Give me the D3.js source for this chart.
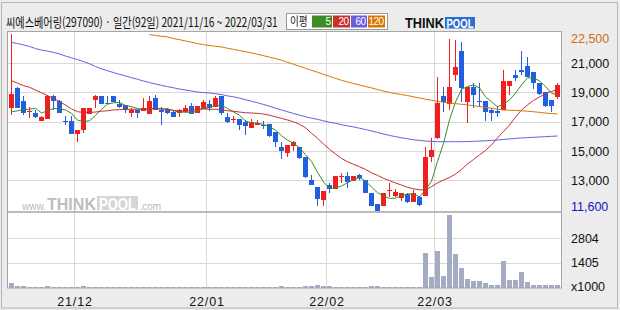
<!DOCTYPE html>
<html>
<head>
<meta charset="utf-8">
<script src="https://cdn.jsdelivr.net/npm/d3@7"></script>
<style>
  body { margin: 0; background: #ececec; }
  svg { display: block; }
</style>
</head>
<body>
<div id="chart"></div>
<script>
// trading days 2021/11/16 ~ 2022/03/31 (92)
var dates = [
  "11/16","11/17","11/18","11/19","11/22","11/23","11/24","11/25","11/26","11/29","11/30",
  "12/01","12/02","12/03","12/06","12/07","12/08","12/09","12/10","12/13","12/14","12/15",
  "12/16","12/17","12/20","12/21","12/22","12/23","12/24","12/27","12/28","12/29","12/30",
  "01/03","01/04","01/05","01/06","01/07","01/10","01/11","01/12","01/13","01/14",
  "01/17","01/18","01/19","01/20","01/21","01/24","01/25","01/26","01/27","01/28",
  "02/03","02/04","02/07","02/08","02/09","02/10","02/11","02/14","02/15","02/16",
  "02/17","02/18","02/21","02/22","02/23","02/24","02/25","02/28",
  "03/02","03/03","03/04","03/07","03/08","03/10","03/11","03/14","03/15","03/16",
  "03/17","03/18","03/21","03/22","03/23","03/24","03/25","03/28","03/29","03/30","03/31"
];

var open = [17950,19150,18350,17700,17600,17150,17250,18650,18350,17100,
  17150,16300,16550,17550,18400,18650,18250,18650,18200,18100,
  17650,17800,17750,17550,18550,17800,17850,17700,17600,17700,
  18050,17600,17850,18200,18000,18700,17350,17200,17250,17050,
  16700,16850,16900,16950,16450,15500,15150,15600,15500,14900,
  13500,13050,12250,13200,12950,13700,13750,13400,13800,13500,
  12700,12000,11850,12800,12500,12400,12600,12150,12450,12500,
  14900,16050,18650,18200,19950,21450,18300,19250,18350,18350,
  17800,17750,17800,19300,19950,20300,20500,20150,19500,18900,
  18400,18600];

var high = [22500,19200,18650,18000,17800,17450,18750,18750,18400,17450,
  17450,16550,17950,17900,18750,18650,18650,18650,18400,18100,
  17900,17800,18550,18650,18750,18000,17900,17750,17850,18100,
  18250,18050,18450,18400,18650,18700,17600,17450,17250,17200,
  17250,17200,17150,16950,16450,15850,15650,15900,15500,14900,
  13800,13050,12800,13300,13750,13900,14000,13700,13850,13500,
  12700,12000,12700,13300,12950,12650,12650,12850,12500,15550,
  16050,19850,19200,22200,22150,22000,19200,19450,19450,18350,
  17900,18050,20300,19600,20300,21450,21050,20150,19500,18900,
  18400,19500];

var low = [17500,17900,17500,17300,17300,17100,17250,17800,17600,16900,
  16300,15800,16400,17550,17950,18200,18150,18300,17900,17600,
  17350,17300,17750,17550,17800,16900,17550,17350,17400,17600,
  17550,17600,17850,17750,18000,17500,17000,17000,16550,16250,
  16700,16850,16650,16150,15500,14750,14900,15300,14800,13600,
  13200,11900,11900,12650,12900,13300,13000,13400,13500,12650,
  11900,11600,11850,12450,12450,12200,12050,12100,11900,12500,
  14600,16000,17700,17800,19600,18300,17000,17950,18000,17150,
  17150,17350,17800,18750,19600,19950,19850,19100,18750,18000,
  17700,18500];

var close = [18800,17950,17650,17750,17400,17350,18650,18350,17650,17050,
  16300,16550,17900,17900,18700,18200,18150,18300,18000,17800,
  17800,17600,17950,18350,17800,17700,17600,17400,17800,17900,
  17550,18050,18300,17950,18550,17650,17050,17250,16900,16800,
  17050,17000,16800,16200,15800,15300,15650,15800,14850,13650,
  13200,12300,12800,12950,13750,13750,13350,13700,13600,12700,
  11900,11600,12700,12850,12750,12650,12150,12700,11950,14900,
  15350,18250,18300,19200,20450,19150,19200,18750,18300,17700,
  17650,17600,19600,19600,19800,20150,19850,19450,18800,18050,
  18050,19350];

// volume, x1000 shares
var volume = [260,60,110,50,45,50,110,55,50,45,
  55,50,60,45,50,45,40,45,40,45,
  40,45,50,55,45,50,40,45,40,45,
  45,40,50,45,55,50,45,40,45,50,
  45,40,45,50,55,60,50,45,55,70,
  60,170,110,60,55,50,45,40,50,55,
  60,65,55,50,45,40,45,50,55,1990,
  570,2100,680,4150,1880,1100,495,360,360,230,
  170,170,1500,400,400,870,340,170,170,170,
  130,130];

var ma5 = [17700,17750,17850,17850,17910,17620,17760,17900,17880,17810,
  17600,17180,17090,17140,17470,17850,18170,18250,18270,18090,
  18010,17900,17830,17900,17900,17880,17880,17770,17660,17680,
  17650,17740,17920,17950,18080,18100,17900,17690,17480,17130,
  17010,17000,16910,16770,16570,16220,15950,15750,15480,15050,
  14630,13960,13360,12980,13000,13110,13320,13500,13630,13420,
  13050,12700,12500,12350,12360,12510,12620,12620,12440,12870,
  13410,14630,15750,17200,18310,19070,19260,19350,19170,18620,
  18320,18000,18170,18430,18850,19350,19800,19770,19610,19260,
  18840,18740];

var ma20 = [19620,19460,19310,19210,19040,18870,18690,18530,18320,18120,
  17870,17700,17660,17660,17680,17730,17760,17810,17830,17850,
  17850,17850,17850,17870,17890,17870,17830,17790,17740,17760,
  17810,17850,17870,17850,17850,17830,17760,17730,17680,17640,
  17620,17600,17560,17480,17390,17290,17190,17080,16920,16710,
  16370,16060,15710,15380,15090,14820,14610,14450,14300,14140,
  13930,13770,13590,13440,13300,13170,13030,12940,12880,12870,
  13080,13300,13480,13640,13850,14130,14470,14750,15030,15310,
  15650,16080,16480,16880,17370,17810,18120,18390,18610,18830,
  18960,19040];

var ma60 = [21980,21910,21830,21730,21600,21510,21440,21360,21270,21140,
  21030,20920,20800,20660,20490,20350,20230,20120,20010,19910,
  19800,19700,19600,19500,19410,19330,19250,19180,19100,19040,
  18980,18920,18880,18860,18810,18760,18680,18620,18540,18440,
  18350,18250,18150,18040,17920,17810,17700,17590,17490,17390,
  17300,17230,17140,17050,16980,16900,16830,16760,16680,16600,
  16510,16420,16320,16240,16160,16090,16030,15970,15930,15890,
  15870,15850,15850,15850,15850,15850,15860,15870,15890,15900,
  15930,15950,15990,16020,16050,16080,16100,16120,16140,16160,
  16180,16200];

// 120-day line is above the chart top before 12/20
var ma120 = [null,null,null,null,null,null,null,null,null,null,
  null,null,null,null,null,null,null,null,null,null,
  null,null,null,22470,22410,22360,22320,22220,22150,22070,
  21990,21910,21840,21790,21740,21700,21620,21550,21480,21410,
  21330,21250,21160,21070,20980,20880,20750,20630,20510,20380,
  20260,20140,20010,19890,19760,19640,19540,19440,19350,19260,
  19170,19070,18980,18890,18820,18760,18700,18620,18550,18470,
  18410,18340,18290,18240,18200,18160,18120,18070,18020,17970,
  17920,17860,17810,17790,17780,17760,17730,17700,17660,17620,
  17590,17560];

var monthTicks = ["12/01", "01/03", "02/03", "03/02"];
var monthLabels = ["21/12", "22/01", "22/02", "22/03"];
var priceTicks = [20690, 18900, 17090, 15270, 13470];
var priceLabels = ["21,000", "19,000", "17,000", "15,000", "13,000"];
var volTicks = [2804, 1405];
var maxPrice = 22500, minPrice = 11600;

var maLines = [
  {name: "5", values: ma5, color: "#3c8c23"},
  {name: "20", values: ma20, color: "#c8302c"},
  {name: "60", values: ma60, color: "#6a5ddc"},
  {name: "120", values: ma120, color: "#d97400"}
];

var width = 620, height = 310;
var upColor = "#f01e1e", downColor = "#1f5fe0";
var numFont = "'Liberation Sans', Arial, sans-serif";
var krFont = "'Noto Sans CJK KR', sans-serif";

var svg = d3.select("#chart").append("svg")
    .attr("width", width)
    .attr("height", height);

// squeeze a text to a given width with a transform (keeps its box honest)
function fitText(sel, x0, y0, w) {
  var len = sel.node().getComputedTextLength();
  sel.attr("transform", "translate(" + x0 + "," + y0 + ") scale(" + (w / len) + ",1)");
}

svg.append("rect").attr("width", width).attr("height", height).attr("fill", "#ececec");
svg.append("rect")
    .attr("x", 1.5).attr("y", 2.5).attr("width", 616).attr("height", 305.5)
    .attr("fill", "none").attr("stroke", "#b4b4b4");

// scales
var x = d3.scaleBand().domain(dates).range([8, 560]);
var yP = d3.scaleLinear().domain([minPrice, maxPrice]).range([210.5, 34]);
var yV = d3.scaleLinear().domain([0, 4200]).range([287.5, 213.7]);

// panes
svg.append("rect").attr("x", 7.5).attr("y", 31.5).attr("width", 554).attr("height", 180.5)
    .attr("fill", "#fff");
svg.append("rect").attr("x", 7.5).attr("y", 212).attr("width", 554).attr("height", 76)
    .attr("fill", "#fff");

svg.append("clipPath").attr("id", "priceClip")
    .append("rect").attr("x", 8).attr("y", 32).attr("width", 553).attr("height", 180);

// grid
var grid = svg.append("g").attr("stroke", "#d9d9d9").attr("shape-rendering", "crispEdges");
grid.selectAll(".hp").data(priceTicks).enter().append("line")
    .attr("x1", 8).attr("x2", 561)
    .attr("y1", function (d) { return Math.round(yP(d)) + 0.5; })
    .attr("y2", function (d) { return Math.round(yP(d)) + 0.5; });
grid.selectAll(".hv").data(volTicks).enter().append("line")
    .attr("x1", 8).attr("x2", 561)
    .attr("y1", function (d) { return Math.round(yV(d)) + 0.5; })
    .attr("y2", function (d) { return Math.round(yV(d)) + 0.5; });
grid.selectAll(".vm").data(monthTicks).enter().append("line")
    .attr("x1", function (d) { return x(d) + 0.5; })
    .attr("x2", function (d) { return x(d) + 0.5; })
    .attr("y1", 32).attr("y2", 288);

// watermark
var wm = svg.append("g").attr("font-family", numFont);
wm.append("text").attr("x", 22).attr("y", 210).attr("font-size", 10).attr("fill", "#b9b9b9").text("www.");
fitText(wm.append("text").attr("font-size", 17).attr("font-weight", "bold")
    .attr("fill", "#bdbdbd").text("THINK"), 47, 210, 49);
wm.append("rect").attr("x", 97).attr("y", 196).attr("width", 41).attr("height", 14).attr("fill", "#d6d6d6");
fitText(wm.append("text").attr("font-size", 16).attr("font-weight", "bold")
    .attr("fill", "#fff").text("POOL"), 99, 209.5, 37);
wm.append("text").attr("x", 139.5).attr("y", 210).attr("font-size", 10).attr("fill", "#b9b9b9").text(".com");

// candles
var rows = dates.map(function (d, i) {
  return {d: d, o: open[i], h: high[i], l: low[i], c: close[i], v: volume[i]};
});

var candles = svg.append("g").attr("shape-rendering", "crispEdges").attr("clip-path", "url(#priceClip)");
candles.selectAll(".wick").data(rows).enter().append("rect")
    .attr("x", function (r) { return x(r.d) + 3; })
    .attr("width", 1)
    .attr("y", function (r) { return Math.round(yP(r.h)); })
    .attr("height", function (r) { return Math.max(1, Math.round(yP(r.l)) - Math.round(yP(r.h))); })
    .attr("fill", function (r) { return r.c >= r.o ? upColor : downColor; });
candles.selectAll(".body").data(rows).enter().append("rect")
    .attr("x", function (r) { return x(r.d) + 1; })
    .attr("width", 5)
    .attr("y", function (r) { return Math.round(yP(Math.max(r.o, r.c))); })
    .attr("height", function (r) {
      return Math.max(1, Math.round(yP(Math.min(r.o, r.c))) - Math.round(yP(Math.max(r.o, r.c))));
    })
    .attr("fill", function (r) { return r.c >= r.o ? upColor : downColor; });

// moving averages
maLines.forEach(function (m) {
  var line = d3.line()
      .defined(function (v) { return v != null; })
      .x(function (v, i) { return x(dates[i]) + 3.5; })
      .y(function (v) { return yP(v); });
  svg.append("path")
      .datum(m.values)
      .attr("clip-path", "url(#priceClip)")
      .attr("fill", "none")
      .attr("stroke", m.color)
      .attr("stroke-width", 1)
      .attr("d", line);
});

// volume bars
svg.append("g").attr("shape-rendering", "crispEdges")
    .selectAll("rect").data(rows).enter().append("rect")
    .attr("x", function (r) { return x(r.d) + 1; })
    .attr("width", 5)
    .attr("y", function (r) { return yV(r.v); })
    .attr("height", function (r) { return yV(0) - yV(r.v); })
    .attr("fill", "#a4acc4");

// pane frames
svg.append("rect").attr("x", 7.5).attr("y", 31.5).attr("width", 554).attr("height", 180.5)
    .attr("fill", "none").attr("stroke", "#a6a6a6");
svg.append("rect").attr("x", 7.5).attr("y", 212).attr("width", 554).attr("height", 76)
    .attr("fill", "none").attr("stroke", "#a6a6a6");

// right axis labels
var axisR = svg.append("g").attr("font-family", numFont).attr("font-size", 12.5);
axisR.selectAll(".pl").data(priceTicks).enter().append("text")
    .attr("x", 571)
    .attr("y", function (d) { return yP(d) + 4.5; })
    .attr("fill", "#111")
    .text(function (d, i) { return priceLabels[i]; });
axisR.append("text").attr("x", 571).attr("y", yP(maxPrice) + 9)
    .attr("fill", "#d2691e").text(d3.format(",")(maxPrice));
axisR.append("text").attr("x", 571).attr("y", yP(minPrice) + 0.5)
    .attr("fill", "#1414c8").text(d3.format(",")(minPrice));
axisR.selectAll(".vl").data(volTicks).enter().append("text")
    .attr("x", 571)
    .attr("y", function (d) { return yV(d) + 4.5; })
    .attr("fill", "#111")
    .text(function (d) { return d; });
axisR.append("text").attr("x", 571).attr("y", yV(0) + 3)
    .attr("fill", "#111").text("x1000");

// date labels
svg.append("g").attr("font-family", numFont).attr("font-size", 12.5)
    .selectAll("text").data(monthTicks).enter().append("text")
    .attr("x", function (d) { return x(d) + 1; })
    .attr("y", 306)
    .attr("text-anchor", "middle")
    .attr("letter-spacing", 0.8)
    .attr("fill", "#111")
    .text(function (d, i) { return monthLabels[i]; });

// title, squeezed horizontally to the reference width
fitText(svg.append("text")
    .attr("font-family", krFont).attr("font-size", 13)
    .attr("fill", "#111")
    .text("씨에스베어링(297090) · 일간(92일) 2021/11/16 ~ 2022/03/31"), 6, 27, 272);

// legend
var lg = svg.append("g");
lg.append("rect").attr("x", 286.5).attr("y", 13.5).attr("width", 101).attr("height", 16)
    .attr("fill", "#fff").attr("stroke", "#9a9a9a");
lg.append("text").attr("font-family", krFont).attr("font-size", 12)
    .attr("transform", "translate(290,25.5) scale(0.8,1)")
    .attr("fill", "#111").text("이평");
var lgX = [312, 333, 351, 368], lgW = [20, 17, 16, 17];
maLines.forEach(function (m, i) {
  lg.append("rect").attr("x", lgX[i]).attr("y", 15.5).attr("width", lgW[i]).attr("height", 12)
      .attr("fill", m.color);
  lg.append("text").attr("x", lgX[i] + lgW[i] - 1.5).attr("y", 25)
      .attr("text-anchor", "end")
      .attr("font-family", numFont).attr("font-size", 10).attr("letter-spacing", -0.6)
      .attr("fill", "#fff").text(m.name);
});

// logo
var logo = svg.append("g").attr("font-family", numFont).attr("font-weight", "bold");
fitText(logo.append("text").attr("font-size", 14).attr("fill", "#111").text("THINK"), 405, 28, 39);
logo.append("rect").attr("x", 445).attr("y", 17).attr("width", 30).attr("height", 11.5).attr("fill", "#2c6fd2");
fitText(logo.append("text").attr("font-size", 13).attr("fill", "#fff").text("POOL"), 446.5, 28, 27);
</script>
</body>
</html>
